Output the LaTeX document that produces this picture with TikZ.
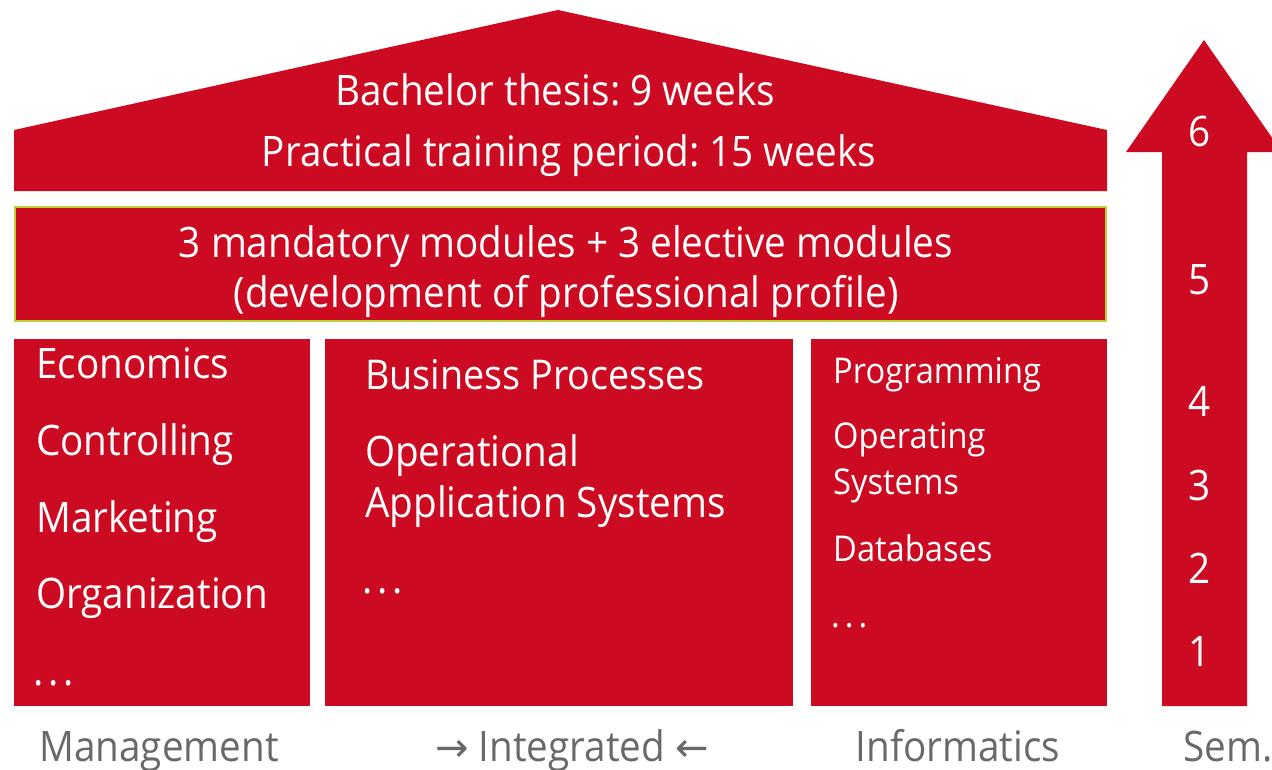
\documentclass[tikz,border=0pt]{standalone}
\usepackage{fontspec}
\setmainfont{Open Sans}[FakeStretch=0.92]
\newfontfamily\arrowfont{DejaVu Sans}
\usepackage{xcolor}
\usepackage{tikz}
\usetikzlibrary{positioning}
\frenchspacing
\definecolor{hsred}{RGB}{204,10,34}
\definecolor{hsgreen}{RGB}{180,211,53}
\definecolor{hsgray}{RGB}{105,105,105}
\newcommand{\moredots}{.\kern5pt.\kern5pt.}
\tikzstyle{block} = [fill=hsred]
\tikzstyle{big} = [text=white, inner sep=0pt, font=\fontsize{42}{50}\selectfont]
\tikzstyle{small} = [text=white, inner sep=0pt, font=\fontsize{35.5}{42}\selectfont]
\tikzstyle{foot} = [text=hsgray, inner sep=0pt, font=\fontsize{42}{48}\selectfont]

\begin{document}
\begin{tikzpicture}[x=1pt, y=-1pt]
    \useasboundingbox (0,0) rectangle (1272,769);
    %% House
    \fill [block] (14,130) -- (558,10) -- (1107,130) -- (1107,191) -- (14,191) -- cycle;
    \filldraw [block, draw=hsgreen, line width=2pt] (15,207) rectangle (1106,321);
    \fill [block] (14,339) rectangle (310,706);
    \fill [block] (325,339) rectangle (793,706);
    \fill [block] (811,339) rectangle (1107,706);
    %% Semester arrow
    \fill [block] (1162,706) -- (1162,152) -- (1126,152) -- (1204,40) -- (1282,152) -- (1247,152) -- (1247,706) -- cycle;
    %% Roof texts
    \node [big, anchor=base] (thesis) at (555,105) {Bachelor thesis: 9 weeks};
    \node [big, anchor=base] (training) at (569,166) {Practical training period: 15 weeks};
    \node [big, anchor=base] (modules) at (566,257) {3 mandatory modules + 3 elective modules};
    \node [big, anchor=base] (profile) at (566,307) {(development of professional profile)};
    %% Management
    \node [big, anchor=base west] (eco) at (36,378) {Economics};
    \node [big, anchor=base west] (contr) at (36,455) {Controlling};
    \node [big, anchor=base west] (mark) at (36,532) {Marketing};
    \node [big, anchor=base west] (orga) at (36,608) {Organization};
    \node [big, anchor=base west] (mdots) at (33,685) {\moredots};
    %% Integrated
    \node [big, anchor=base west] (bproc) at (365,389) {\fontsize{41}{48}\selectfont Business Processes};
    \node [big, anchor=base west] (oper) at (365,466) {Operational};
    \node [big, anchor=base west] (appl) at (365,517) {Application Systems};
    \node [big, anchor=base west] (idots) at (362,593) {\moredots};
    %% Informatics
    \node [small, anchor=base west] (prog) at (833,383) {Programming};
    \node [small, anchor=base west] (opsys) at (833,448) {Operating};
    \node [small, anchor=base west] (sys) at (833,494) {Systems};
    \node [small, anchor=base west] (db) at (833,561) {Databases};
    \node [small, anchor=base west] (fdots) at (831,627) {\moredots};
    %% Semesters
    \node [big, anchor=base] (s6) at (1200,146) {6};
    \node [big, anchor=base] (s5) at (1200,294) {5};
    \node [big, anchor=base] (s4) at (1200,416) {4};
    \node [big, anchor=base] (s3) at (1200,500) {3};
    \node [big, anchor=base] (s2) at (1200,583) {2};
    \node [big, anchor=base] (s1) at (1200,666) {1};
    %% Footer
    \node [foot, anchor=base] (mgmt) at (159,761) {Management};
    \node [foot, anchor=base] (integ) at (572,761) {{\arrowfont\fontsize{40}{48}\selectfont →} Integrated {\arrowfont\fontsize{40}{48}\selectfont ←}};
    \node [foot, anchor=base] (info) at (958,761) {Informatics};
    \node [foot, anchor=base west] (sem) at (1183,761) {Sem.};
  \end{tikzpicture}
\end{document}
